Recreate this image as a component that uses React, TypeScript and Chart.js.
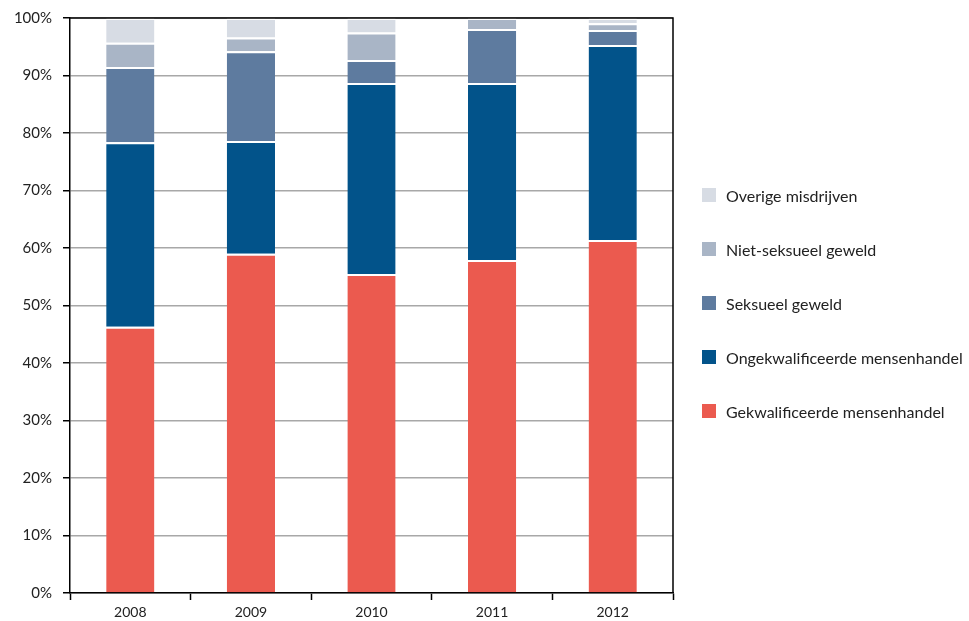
import React, { useEffect, useRef } from "react";
import { Chart, registerables } from "chart.js";

Chart.register(...registerables);

const years = ["2008", "2009", "2010", "2011", "2012"];
const gekwalificeerd = [46.3, 59.0, 55.5, 57.9, 61.4];
const ongekwalificeerd = [32.1, 19.6, 33.2, 30.8, 33.9];
const seksueelGeweld = [13.1, 15.6, 4.0, 9.4, 2.6];
const nietSeksueelGeweld = [4.2, 2.4, 4.8, 1.9, 1.2];
const overigeMisdrijven = [4.3, 3.4, 2.5, 0.0, 0.9];
const yTicks = [0, 10, 20, 30, 40, 50, 60, 70, 80, 90, 100];

const seriesLabels = [
  "Gekwalificeerde mensenhandel",
  "Ongekwalificeerde mensenhandel",
  "Seksueel geweld",
  "Niet-seksueel geweld",
  "Overige misdrijven",
];
const seriesColors = ["#EB5A4F", "#02538A", "#5E7B9F", "#A9B5C6", "#D7DCE4"];
const seriesValues = [
  gekwalificeerd,
  ongekwalificeerd,
  seksueelGeweld,
  nietSeksueelGeweld,
  overigeMisdrijven,
];

const FONT = "Lato, 'Open Sans', sans-serif";

export default function App() {
  const ref = useRef<HTMLCanvasElement | null>(null);

  useEffect(() => {
    if (!ref.current) return;
    const borderPlugin = {
      id: "frame",
      afterDraw(chart: any) {
        const { ctx, chartArea } = chart;
        ctx.save();
        ctx.strokeStyle = "#000";
        ctx.lineWidth = 1.5;
        ctx.beginPath();
        ctx.moveTo(chartArea.left, chartArea.top);
        ctx.lineTo(chartArea.right, chartArea.top);
        ctx.lineTo(chartArea.right, chartArea.bottom);
        ctx.stroke();
        ctx.restore();
      },
    };
    const chart = new Chart(ref.current, {
      type: "bar",
      data: {
        labels: years,
        datasets: seriesLabels.map((label, i) => ({
          label,
          data: seriesValues[i],
          backgroundColor: seriesColors[i],
          borderColor: "#ffffff",
          borderWidth: { top: 2, left: 0, right: 0, bottom: 0 },
          borderSkipped: false,
          categoryPercentage: 1,
          barPercentage: 0.4,
        })),
      },
      options: {
        animation: false,
        responsive: false,
        maintainAspectRatio: false,
        layout: { padding: { left: 0, top: 18, right: 296, bottom: 0 } },
        plugins: {
          legend: { display: false },
          tooltip: { enabled: false },
        },
        scales: {
          x: {
            stacked: true,
            offset: true,
            grid: {
              offset: true,
              drawOnChartArea: false,
              tickLength: 7,
              tickColor: "#000",
              tickWidth: 1.5,
            },
            border: { color: "#000", width: 1.5 },
            ticks: {
              color: "#222",
              padding: 4,
              font: { family: FONT, size: 14 },
            },
            afterFit(scale: any) {
              scale.height = 28;
              scale.paddingLeft = 0;
              scale.paddingRight = 0;
            },
          },
          y: {
            stacked: true,
            min: 0,
            max: 100,
            afterBuildTicks(scale: any) {
              scale.ticks = yTicks.map((v) => ({ value: v }));
            },
            grid: {
              color: "#A8A8A8",
              lineWidth: 1.5,
              tickLength: 7,
              tickColor: "#000",
              tickWidth: 1.5,
            },
            border: { color: "#000", width: 1.5 },
            ticks: {
              color: "#222",
              padding: 11,
              font: { family: FONT, size: 15 },
              callback: (v: any) => v + "%",
            },
            afterFit(scale: any) {
              scale.width = 70;
              scale.paddingTop = 0;
              scale.paddingBottom = 0;
            },
          },
        },
      },
      plugins: [borderPlugin],
    });
    return () => chart.destroy();
  }, []);

  const legendOrder = seriesLabels.map((_, i) => i).reverse();

  return (
    <div style={{ position: "absolute", left: 0, top: 0, width: 969, height: 621, background: "#fff" }}>
      <canvas ref={ref} width={969} height={621} style={{ display: "block" }} />
      <div style={{ position: "absolute", left: 702, top: 186, fontFamily: FONT, fontSize: 16, color: "#222" }}>
        {legendOrder.map((i) => (
          <div key={i} style={{ display: "flex", alignItems: "center", height: 18, marginBottom: 36 }}>
            <span style={{ display: "inline-block", width: 14, height: 14, background: seriesColors[i], marginRight: 10 }} />
            <span style={{ whiteSpace: "nowrap" }}>{seriesLabels[i]}</span>
          </div>
        ))}
      </div>
    </div>
  );
}
